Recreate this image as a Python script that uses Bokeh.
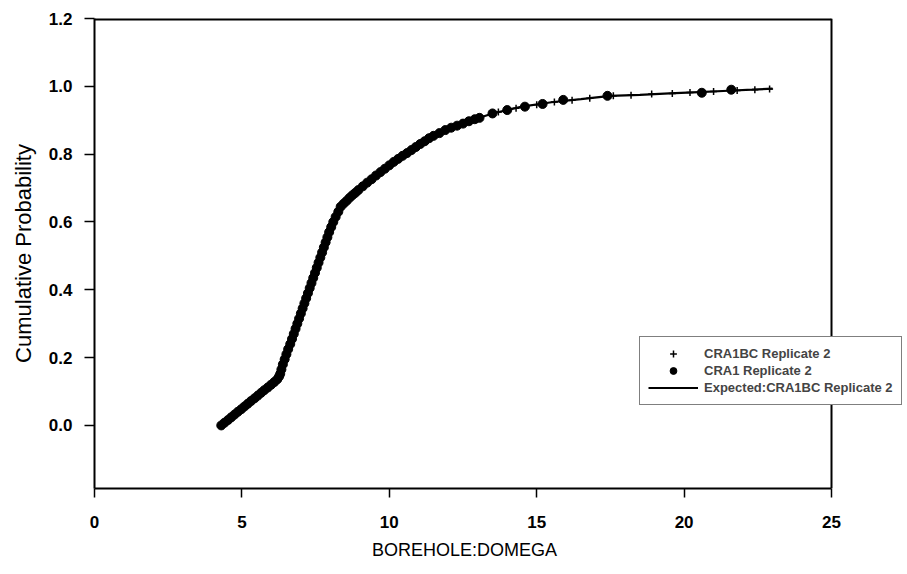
from bokeh.plotting import figure
from bokeh.models import Range1d, FixedTicker, PrintfTickFormatter, Legend, LegendItem, Span
from bokeh.embed import file_html
from bokeh.resources import INLINE

# Expected: CRA1BC Replicate 2 (line)
exp_x = [4.3, 4.7, 5.2, 5.7, 6.2, 6.35, 6.6, 7.0, 7.4, 7.8, 8.1, 8.35, 8.7, 9.1, 9.6,
         10.2, 10.8, 11.4, 12.0, 12.8, 13.5, 14.5, 15.5, 16.5, 17.5, 18.5, 19.5, 20.5,
         21.5, 22.3, 23.0]
exp_y = [0.0, 0.028, 0.064, 0.10, 0.136, 0.17, 0.23, 0.33, 0.43, 0.53, 0.60, 0.645, 0.675,
         0.705, 0.74, 0.78, 0.815, 0.85, 0.875, 0.90, 0.92, 0.94, 0.953, 0.962, 0.972,
         0.975, 0.979, 0.983, 0.987, 0.99, 0.993]

# CRA1BC Replicate 2 (plus markers)
bc_x = [4.4, 4.9, 5.4, 5.9, 6.3, 6.7, 7.1, 7.5, 7.9, 8.25, 8.6, 9.2, 9.8, 10.4, 11.0,
        11.6, 12.2, 12.9, 13.7, 14.3, 15.0, 15.6, 16.2, 16.8, 17.6, 18.2, 18.9, 19.6,
        20.2, 21.0, 21.8, 22.4, 22.9]
bc_y = [0.007, 0.043, 0.078, 0.114, 0.157, 0.255, 0.355, 0.455, 0.553, 0.627, 0.666,
        0.712, 0.753, 0.792, 0.827, 0.858, 0.881, 0.903, 0.924, 0.935, 0.946, 0.954,
        0.959, 0.965, 0.972, 0.974, 0.977, 0.979, 0.982, 0.985, 0.988, 0.99, 0.992]

# CRA1 Replicate 2 (circle markers)
c1_x = [4.3, 4.41, 4.53, 4.64, 4.75, 4.86, 4.98, 5.09, 5.2, 5.31, 5.43, 5.54, 5.65, 5.76,
        5.88, 5.99, 6.1, 6.2, 6.26, 6.3,
        6.34, 6.39, 6.45, 6.51, 6.57, 6.64, 6.7, 6.76, 6.82, 6.88, 6.94, 7.0, 7.06, 7.12,
        7.18, 7.24, 7.3, 7.36, 7.42, 7.48, 7.54, 7.6, 7.66, 7.72, 7.78, 7.84, 7.9, 7.96,
        8.03, 8.1, 8.18, 8.27, 8.35,
        8.45, 8.55, 8.65, 8.75, 8.85, 8.95, 9.1, 9.25, 9.4, 9.55, 9.7, 9.85, 10.0, 10.15,
        10.3, 10.45, 10.6, 10.75, 10.9, 11.05, 11.2, 11.35, 11.5, 11.7, 11.9, 12.1, 12.3,
        12.5, 12.7, 12.9, 13.06,
        13.5, 14.0, 14.6, 15.2, 15.9, 17.4, 20.6, 21.6]
c1_y = [0.0, 0.008, 0.016, 0.024, 0.032, 0.04, 0.048, 0.056, 0.064, 0.072, 0.08, 0.088,
        0.096, 0.104, 0.112, 0.12, 0.128, 0.136, 0.144, 0.152,
        0.165, 0.18, 0.195, 0.21, 0.225, 0.24, 0.255, 0.27, 0.285, 0.30, 0.315, 0.33,
        0.345, 0.36, 0.375, 0.39, 0.405, 0.42, 0.435, 0.45, 0.465, 0.48, 0.495, 0.51,
        0.525, 0.54, 0.555, 0.57, 0.585, 0.60, 0.615, 0.63, 0.645,
        0.654, 0.662, 0.671, 0.679, 0.686, 0.694, 0.705, 0.716, 0.726, 0.737, 0.747,
        0.757, 0.767, 0.777, 0.786, 0.795, 0.803, 0.812, 0.821, 0.83, 0.838, 0.847,
        0.854, 0.862, 0.871, 0.878, 0.884, 0.89, 0.897, 0.903, 0.907,
        0.92, 0.93, 0.94, 0.948, 0.96, 0.972, 0.981, 0.99]

x_ticks = [0, 5, 10, 15, 20, 25]
y_ticks = [0.0, 0.2, 0.4, 0.6, 0.8, 1.0, 1.2]

FONT = "Liberation Sans"

# plot box is 737 px wide; the frame continues to the right edge so the legend can overhang
BOX_W = 737
FRAME_W = 810
x_end = x_ticks[-1] * FRAME_W / BOX_W

p = figure(output_backend="svg", toolbar_location=None,
           frame_width=FRAME_W, frame_height=470,
           min_border_left=94, min_border_right=0, min_border_top=18, min_border_bottom=80,
           x_range=Range1d(x_ticks[0], x_end), y_range=Range1d(-0.186, y_ticks[-1]))

p.xgrid.visible = False
p.ygrid.visible = False
p.outline_line_color = None

for ax in (p.xaxis[0], p.yaxis[0]):
    ax.axis_line_width = 2
    ax.axis_line_color = "black"
    ax.major_tick_line_color = "black"
    ax.major_tick_line_width = 1.5
    ax.major_tick_in = 0
    ax.minor_tick_line_color = None
    ax.major_label_text_font = FONT
    ax.major_label_text_font_size = "17px"
    ax.major_label_text_font_style = "bold"
    ax.major_label_text_color = "black"
    ax.axis_label_text_font = FONT
    ax.axis_label_text_font_style = "normal"
    ax.axis_label_text_color = "black"

p.xaxis[0].bounds = (x_ticks[0], x_ticks[-1])
p.xaxis[0].ticker = FixedTicker(ticks=x_ticks)
p.yaxis[0].ticker = FixedTicker(ticks=y_ticks)
p.yaxis[0].formatter = PrintfTickFormatter(format="%.1f")
p.xaxis[0].major_tick_out = 9
p.yaxis[0].major_tick_out = 10
p.xaxis[0].major_label_standoff = 18
p.yaxis[0].major_label_standoff = 12
# trailing no-break spaces keep the label centred under the plot box rather than the wider frame
p.xaxis[0].axis_label = "BOREHOLE:DOMEGA" + "\u00a0" * 14
p.yaxis[0].axis_label = "Cumulative Probability"
p.xaxis[0].axis_label_text_font_size = "18px"
p.yaxis[0].axis_label_text_font_size = "22px"
p.xaxis[0].axis_label_standoff = 9
p.yaxis[0].axis_label_standoff = 10

# right and top edges of the plot box
p.add_layout(Span(location=x_ticks[-1], dimension="height", line_color="black", line_width=2))
p.segment(x0=[x_ticks[0]], y0=[y_ticks[-1]], x1=[x_ticks[-1]], y1=[y_ticks[-1]],
          line_color="black", line_width=4)

r_line = p.line(exp_x, exp_y, line_color="black", line_width=2.2)
r_plus = p.scatter(bc_x, bc_y, marker="cross", size=7, line_color="black", line_width=1.5)
r_circ = p.scatter(c1_x, c1_y, marker="circle", size=9, fill_color="black", line_color="black")

legend = Legend(items=[
    LegendItem(label="CRA1BC Replicate 2", renderers=[r_plus]),
    LegendItem(label="CRA1 Replicate 2", renderers=[r_circ]),
    LegendItem(label="Expected:CRA1BC Replicate 2", renderers=[r_line]),
], location=(545, 83))
legend.border_line_color = "black"
legend.border_line_width = 1.5
legend.background_fill_color = "white"
legend.background_fill_alpha = 1
legend.label_text_font = FONT
legend.label_text_font_size = "13px"
legend.label_text_font_style = "bold"
legend.label_height = 17
legend.glyph_height = 17
legend.glyph_width = 50
legend.label_standoff = 6
legend.spacing = 0
legend.padding = 8
legend.margin = 0
p.add_layout(legend, "center")

open("out.html", "w").write(file_html(p, INLINE))
